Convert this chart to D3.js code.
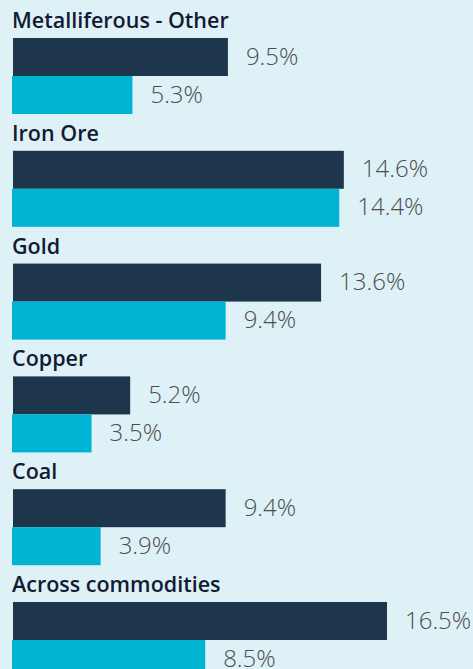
<!DOCTYPE html>
<html>
<head>
<meta charset="utf-8">
<script src="https://cdn.jsdelivr.net/npm/d3@7"></script>
<style>
  html, body { margin: 0; padding: 0; background: #ddf1f7; }
  svg { display: block; }
</style>
</head>
<body>
<svg id="chart" width="473" height="669"></svg>
<script>
const categories = ["Metalliferous - Other", "Iron Ore", "Gold", "Copper", "Coal", "Across commodities"];
const seriesA = [9.5, 14.6, 13.6, 5.2, 9.4, 16.5];
const seriesB = [5.3, 14.4, 9.4, 3.5, 3.9, 8.5];
const valueLabelsA = ["9.5%", "14.6%", "13.6%", "5.2%", "9.4%", "16.5%"];
const valueLabelsB = ["5.3%", "14.4%", "9.4%", "3.5%", "3.9%", "8.5%"];

const W = 473, H = 669;
const svg = d3.select("#chart");
svg.append("rect").attr("width", W).attr("height", H).attr("fill", "#ddf1f7");

const x = d3.scaleLinear().domain([0, 16.5]).range([12, 387]);
const groupY = d3.scaleBand().domain(categories).range([38, 38 + 112.8 * 6]).paddingInner(0).paddingOuter(0);
const barH = 38;

const g = svg.selectAll("g.grp").data(categories).join("g").attr("class", "grp")
  .attr("transform", d => `translate(0,${groupY(d)})`);

g.append("text")
  .attr("x", 12)
  .attr("y", -10)
  .attr("font-family", "'Open Sans', sans-serif")
  .attr("font-weight", 600)
  .attr("font-size", 21.5)
  .attr("fill", "#131a33")
  .text(d => d);

g.append("rect")
  .attr("x", x(0) + 1)
  .attr("y", 0)
  .attr("width", (d, i) => x(seriesA[i]) - x(0) - 1)
  .attr("height", barH)
  .attr("fill", "#1d364b");

g.append("rect")
  .attr("x", x(0))
  .attr("y", barH)
  .attr("width", (d, i) => x(seriesB[i]) - x(0))
  .attr("height", barH)
  .attr("fill", "#00b5d3");

g.append("text")
  .attr("x", (d, i) => x(seriesA[i]) + 18)
  .attr("y", barH / 2 + 7.5)
  .attr("font-family", "'Open Sans', sans-serif")
  .attr("font-weight", 300)
  .attr("font-size", 24)
  .attr("fill", "#4d4d4d")
  .text((d, i) => valueLabelsA[i]);

g.append("text")
  .attr("x", (d, i) => x(seriesB[i]) + 18)
  .attr("y", barH + barH / 2 + 7.5)
  .attr("font-family", "'Open Sans', sans-serif")
  .attr("font-weight", 300)
  .attr("font-size", 24)
  .attr("fill", "#4d4d4d")
  .text((d, i) => valueLabelsB[i]);
</script>
</body>
</html>
